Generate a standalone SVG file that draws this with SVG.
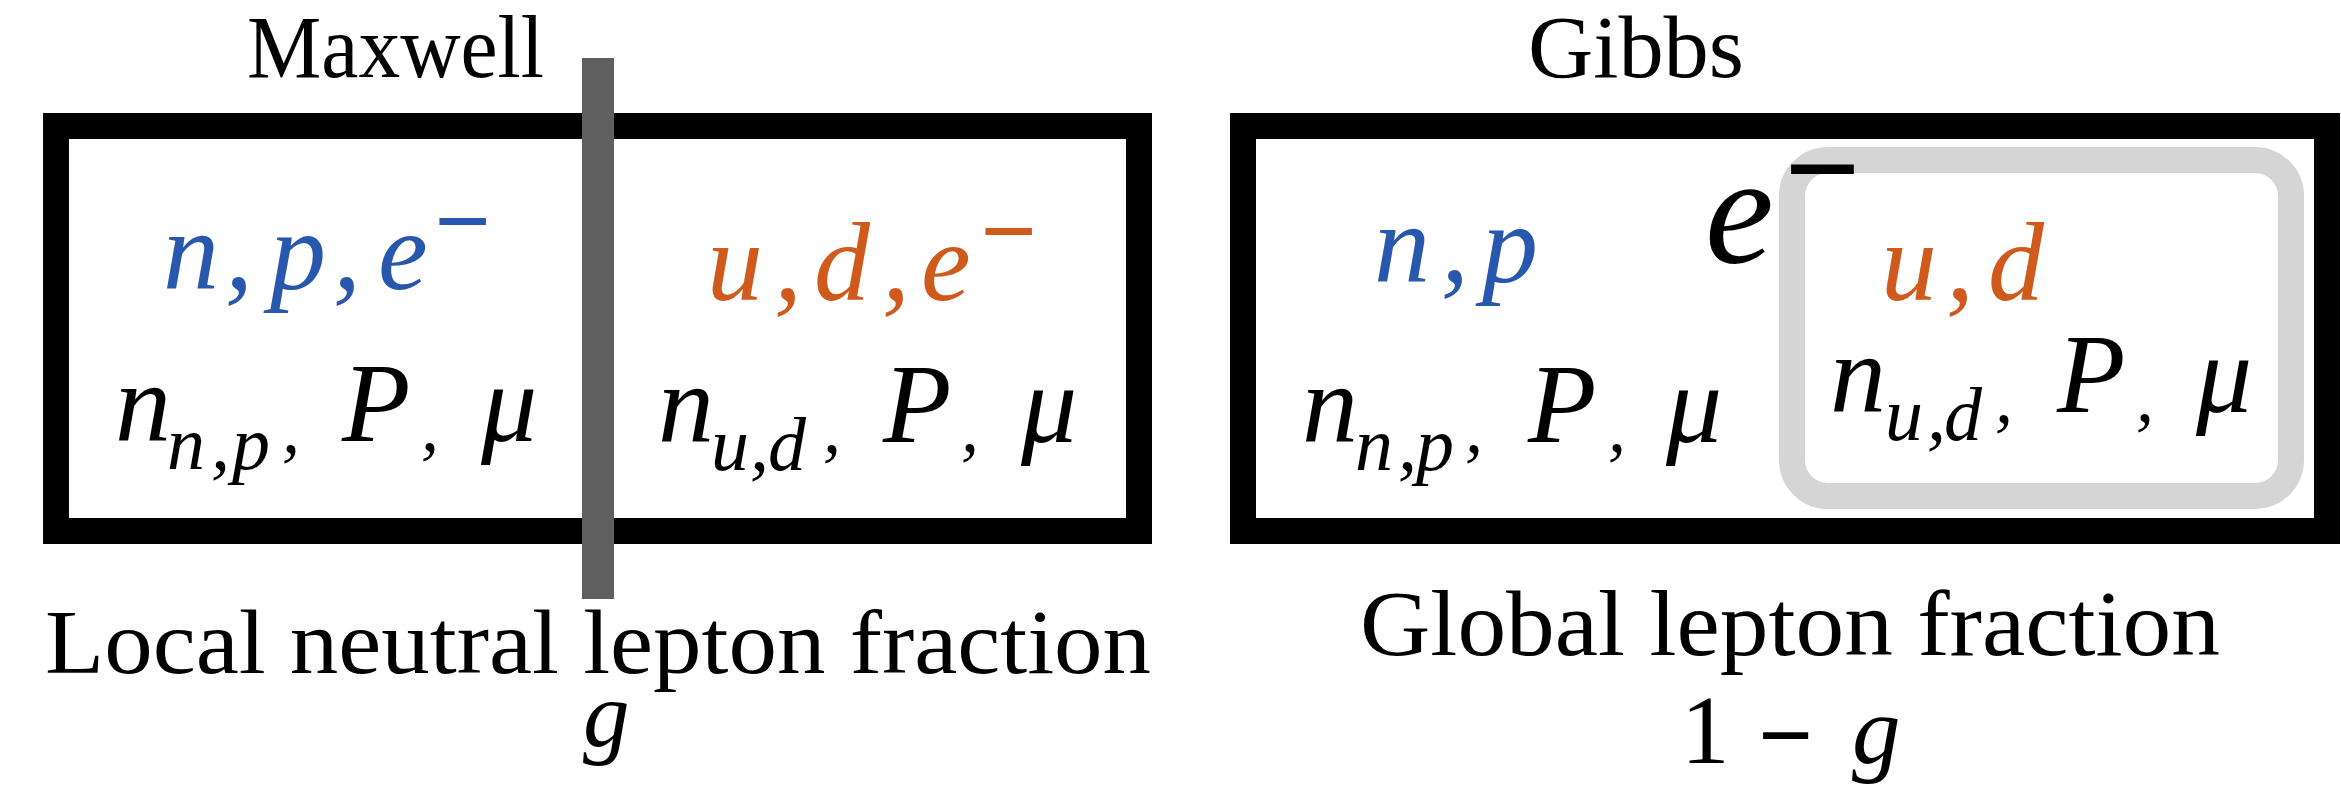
<svg xmlns="http://www.w3.org/2000/svg" width="2341" height="787" viewBox="0 0 2341 787">
<style>
.lbl{font-family:"Liberation Serif",serif;fill:#000}
.m{font-family:"Liberation Serif",serif;font-style:italic;font-size:112px;fill:#000}
.s{font-size:76px}
.c{font-size:72px}
.blue{fill:#2858ae}
.orange{fill:#d05a1c}
.box{fill:#fff;stroke:#000;stroke-width:26}
.minus{font-family:"Liberation Serif",serif;font-style:normal;font-weight:bold}
</style>
<rect width="2341" height="787" fill="#fff"/>
<g id="connectors"/>
<g id="maxwell">
  <text class="lbl" x="247" y="77" font-size="88" textLength="297" lengthAdjust="spacingAndGlyphs">Maxwell</text>
  <rect class="box" x="56" y="126" width="1083" height="405"/>
  <g id="hadron-phase-left">
    <text class="m blue" x="163 225 270 333 378" y="289">n,p,e</text>
    <text class="minus blue" x="434" y="255" style="font-size:100px">−</text>
    <text class="m"><tspan x="115" y="441">n</tspan><tspan class="s" x="167 211 232" y="469">n,p</tspan><tspan class="c" x="282" y="452">,</tspan><tspan x="342" y="441">P</tspan><tspan class="c" x="421" y="450">,</tspan><tspan x="481" y="441">μ</tspan></text>
  </g>
  <g id="quark-phase-left">
    <text class="m orange" x="707 774 814 882 921" y="300">u,d,e</text>
    <text class="minus orange" x="980" y="265" style="font-size:100px">−</text>
    <text class="m"><tspan x="658" y="442">n</tspan><tspan class="s" x="711 750 768" y="470">u,d</tspan><tspan class="c" x="823" y="452">,</tspan><tspan x="883" y="442">P</tspan><tspan class="c" x="961" y="451">,</tspan><tspan x="1021" y="442">μ</tspan></text>
  </g>
  <rect id="barrier" x="582" y="58" width="32" height="541" fill="#5f5f5f"/>
  <text class="lbl" x="45" y="673" font-size="92" textLength="1106" lengthAdjust="spacingAndGlyphs">Local neutral lepton fraction</text>
  <text class="m" x="583" y="746" style="font-size:93px">g</text>
</g>
<g id="gibbs">
  <text class="lbl" x="1528" y="77" font-size="88" textLength="216" lengthAdjust="spacingAndGlyphs">Gibbs</text>
  <rect class="box" x="1243" y="126" width="1084" height="405"/>
  <rect id="quark-region" x="1792" y="160" width="499" height="336" rx="36" ry="36" fill="none" stroke="#d5d5d5" stroke-width="26"/>
  <g id="electrons">
    <text class="m" x="1705" y="262" style="font-size:155px">e</text>
    <text class="minus" x="1784" y="214" style="font-size:135px">−</text>
  </g>
  <g id="hadron-phase-right">
    <text class="m blue" x="1374 1441 1482" y="282">n,p</text>
    <text class="m"><tspan x="1302" y="442">n</tspan><tspan class="s" x="1355 1398 1416" y="470">n,p</tspan><tspan class="c" x="1465" y="452">,</tspan><tspan x="1528" y="442">P</tspan><tspan class="c" x="1608" y="451">,</tspan><tspan x="1666" y="442">μ</tspan></text>
  </g>
  <g id="quark-phase-right">
    <text class="m orange" x="1881 1946 1988" y="300">u,d</text>
    <text class="m"><tspan x="1830" y="412">n</tspan><tspan class="s" x="1885 1927 1944" y="440">u,d</tspan><tspan class="c" x="1995" y="422">,</tspan><tspan x="2057" y="412">P</tspan><tspan class="c" x="2136" y="421">,</tspan><tspan x="2196" y="412">μ</tspan></text>
  </g>
  <text class="lbl" x="1360" y="655" font-size="94" textLength="860" lengthAdjust="spacingAndGlyphs">Global lepton fraction</text>
  <text class="lbl" font-size="97"><tspan x="1681" y="763">1</tspan><tspan x="1758" y="768" font-weight="bold">−</tspan><tspan x="1852" y="763" font-style="italic">g</tspan></text>
</g>
</svg>
